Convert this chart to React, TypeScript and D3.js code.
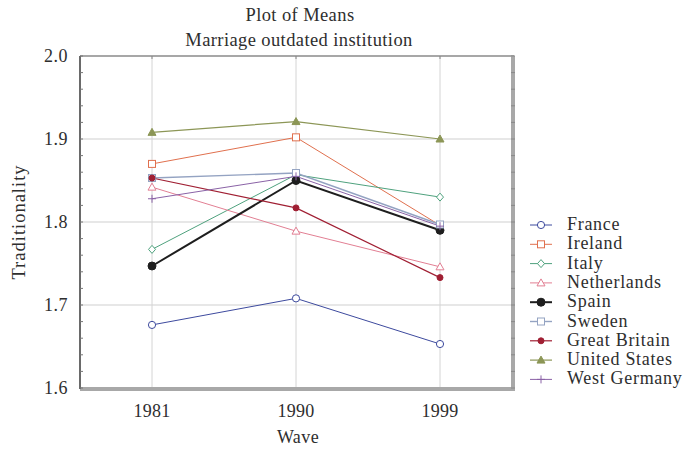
import React from "react";
import * as d3 from "d3";

// Survey waves and mean traditionality scores per country
const waves = ["1981", "1990", "1999"];
const countries = [
  "France",
  "Ireland",
  "Italy",
  "Netherlands",
  "Spain",
  "Sweden",
  "Great Britain",
  "United States",
  "West Germany",
];
const france = [1.676, 1.708, 1.653];
const ireland = [1.870, 1.902, 1.796];
const italy = [1.767, 1.857, 1.830];
const netherlands = [1.842, 1.789, 1.746];
const spain = [1.747, 1.850, 1.790];
const sweden = [1.853, 1.859, 1.797];
const greatBritain = [1.853, 1.817, 1.733];
const unitedStates = [1.908, 1.921, 1.900];
const westGermany = [1.828, 1.855, 1.795];
const yTicks = [1.6, 1.7, 1.8, 1.9, 2.0];

type Marker = "circle" | "square" | "diamond" | "triangle" | "dot" | "plus";
interface Style {
  color: string;
  marker: Marker;
  filled: boolean;
  width: number;
}

const styles: Style[] = [
  { color: "#3d4a9e", marker: "circle", filled: false, width: 1 },
  { color: "#e0704e", marker: "square", filled: false, width: 1 },
  { color: "#4fa27e", marker: "diamond", filled: false, width: 1 },
  { color: "#e27f93", marker: "triangle", filled: false, width: 1 },
  { color: "#1e1e1e", marker: "circle", filled: true, width: 2 },
  { color: "#94a3c2", marker: "square", filled: false, width: 1.4 },
  { color: "#a01f33", marker: "dot", filled: true, width: 1.2 },
  { color: "#8c9656", marker: "triangle", filled: true, width: 1.2 },
  { color: "#8a62a6", marker: "plus", filled: false, width: 1 },
];

const series = [
  france,
  ireland,
  italy,
  netherlands,
  spain,
  sweden,
  greatBritain,
  unitedStates,
  westGermany,
];

const W = 693;
const H = 452;
const left = 80;
const right = 512;
const top = 56;
const bottom = 388;

const x = d3.scalePoint<string>().domain(waves).range([left, right]).padding(0.5);
const y = d3.scaleLinear().domain([1.6, 2.0]).range([bottom, top]);
const minorTicks = d3.range(1.6, 2.0001, 0.02);

const FONT = "'Liberation Serif', 'Times New Roman', serif";

function MarkerShape({ s, cx, cy }: { s: Style; cx: number; cy: number }) {
  const fill = s.filled ? s.color : "#fff";
  const common = { stroke: s.color, strokeWidth: 1, fill };
  switch (s.marker) {
    case "circle":
      return <circle cx={cx} cy={cy} r={s.filled ? 4 : 3.6} {...common} />;
    case "dot":
      return <circle cx={cx} cy={cy} r={3} {...common} />;
    case "square":
      return <rect x={cx - 3.5} y={cy - 3.5} width={7} height={7} {...common} />;
    case "diamond":
      return (
        <path d={`M${cx},${cy - 4}L${cx + 3.5},${cy}L${cx},${cy + 4}L${cx - 3.5},${cy}Z`} {...common} />
      );
    case "triangle":
      return (
        <path d={`M${cx},${cy - 4}L${cx + 4},${cy + 3}L${cx - 4},${cy + 3}Z`} {...common} />
      );
    case "plus":
      return (
        <path
          d={`M${cx - 4},${cy}H${cx + 4}M${cx},${cy - 4}V${cy + 4}`}
          stroke={s.color}
          strokeWidth={1}
          fill="none"
        />
      );
  }
}

export default function App() {
  const line = d3
    .line<number>()
    .x((_, i) => x(waves[i]) as number)
    .y((d) => y(d));

  const legendX = 541;
  const legendY0 = 225;
  const legendStep = 19.3;
  const textFill = "#2e2e2e";

  return (
    <svg width={W} height={H} style={{ position: "absolute", left: 0, top: 0, background: "#fff" }}>
      <rect width={W} height={H} fill="#fff" />
      {/* titles */}
      <text x={300} y={21} textAnchor="middle" fontFamily={FONT} fontSize={18.5} letterSpacing={0.4} fill={textFill}>
        Plot of Means
      </text>
      <text x={299} y={46} textAnchor="middle" fontFamily={FONT} fontSize={18.5} letterSpacing={0.4} fill={textFill}>
        Marriage outdated institution
      </text>

      {/* grid */}
      {yTicks.slice(1, -1).map((t) => (
        <line key={t} x1={left} x2={right} y1={y(t)} y2={y(t)} stroke="#cfcfcf" strokeWidth={1} />
      ))}
      {waves.map((w) => (
        <line key={w} x1={x(w)} x2={x(w)} y1={top} y2={bottom} stroke="#d4d4d4" strokeWidth={1} />
      ))}

      {/* frame */}
      <line x1={left} x2={right + 2} y1={top} y2={top} stroke="#8a8a8a" strokeWidth={1.5} />
      <line x1={right + 1} x2={right + 1} y1={top} y2={bottom + 3} stroke="#a8a8a8" strokeWidth={4} />
      <line x1={left} x2={right + 3} y1={bottom + 1} y2={bottom + 1} stroke="#a8a8a8" strokeWidth={4} />
      <line x1={left} x2={left} y1={top} y2={bottom + 1} stroke="#6a6a6a" strokeWidth={2} />

      {/* y ticks */}
      {minorTicks.map((t) => (
        <g key={t}>
          <line x1={left} x2={left + 3} y1={y(t)} y2={y(t)} stroke="#777" strokeWidth={1} />
          <line x1={right - 1} x2={right + 3} y1={y(t)} y2={y(t)} stroke="#888" strokeWidth={1} />
        </g>
      ))}
      {yTicks.map((t) => (
        <text
          key={t}
          x={68}
          y={y(t) + 6}
          textAnchor="end"
          fontFamily={FONT}
          fontSize={18}
          letterSpacing={0.5}
          fill={textFill}
        >
          {t.toFixed(1)}
        </text>
      ))}
      {/* x ticks */}
      {waves.map((w) => (
        <g key={w}>
          <line x1={x(w)} x2={x(w)} y1={top} y2={top + 3} stroke="#888" />
          <text
            x={x(w)}
            y={bottom + 29}
            textAnchor="middle"
            fontFamily={FONT}
            fontSize={18}
            letterSpacing={0.2}
            fill={textFill}
          >
            {w}
          </text>
        </g>
      ))}

      {/* axis titles */}
      <text x={298} y={443} textAnchor="middle" fontFamily={FONT} fontSize={18} letterSpacing={0.4} fill={textFill}>
        Wave
      </text>
      <text
        transform={`translate(25,${222}) rotate(-90)`}
        textAnchor="middle"
        fontFamily={FONT}
        fontSize={18.5}
        letterSpacing={1}
        fill={textFill}
      >
        Traditionality
      </text>

      {/* series */}
      {series.map((vals, i) => (
        <path
          key={countries[i]}
          d={line(vals) ?? ""}
          fill="none"
          stroke={styles[i].color}
          strokeWidth={styles[i].width}
        />
      ))}
      {series.map((vals, i) =>
        vals.map((v, j) => (
          <MarkerShape key={`${i}-${j}`} s={styles[i]} cx={x(waves[j]) as number} cy={y(v)} />
        ))
      )}

      {/* legend */}
      {countries.map((c, i) => {
        const cy = legendY0 + i * legendStep;
        return (
          <g key={c}>
            <line
              x1={legendX - 11}
              x2={legendX + 11}
              y1={cy}
              y2={cy}
              stroke={styles[i].color}
              strokeWidth={styles[i].width}
            />
            <MarkerShape s={styles[i]} cx={legendX} cy={cy} />
            <text x={567} y={cy + 5} fontFamily={FONT} fontSize={18} letterSpacing={0.7} fill={textFill}>
              {c}
            </text>
          </g>
        );
      })}
    </svg>
  );
}
